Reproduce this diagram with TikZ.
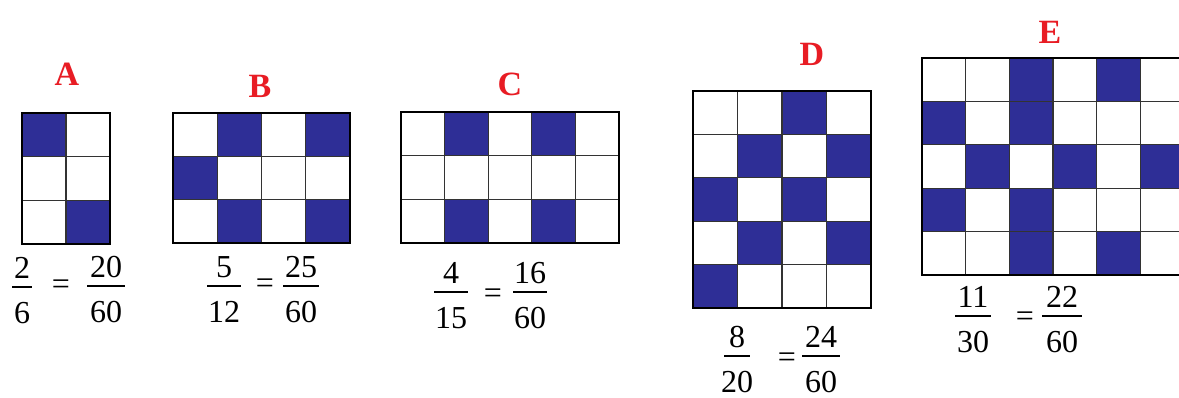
\documentclass[tikz,border=0pt]{standalone}
\usepackage{fontspec}
\setmainfont{Liberation Serif}
\definecolor{cellblue}{RGB}{46,46,150}
\definecolor{labred}{RGB}{232,28,36}
\tikzset{
  cell/.style={fill=cellblue},
  innerline/.style={draw=black!80, line width=1.3pt},
  outerline/.style={draw=black, line width=2.6pt},
  letter/.style={text=labred, font=\fontsize{34}{34}\selectfont\bfseries, inner sep=0pt, anchor=base},
  digit/.style={font=\fontsize{32}{32}\selectfont, inner sep=0pt, anchor=base},
  eqsign/.style={font=\fontsize{32}{32}\selectfont, inner sep=0pt, anchor=center},
  fracbar/.style={draw=black, line width=1.2pt}
}
% grid: x0, y0, cols, rows, cellw, cellh, filled list c/r
\newcommand\mygrid[7]{%
  \foreach \c/\r in {#7}{\fill[cell] ({#1+(\c-1)*#5},{#2+(\r-1)*#6}) rectangle ++(#5,#6);}
  \pgfmathtruncatemacro\gcm{#3-1}%
  \pgfmathtruncatemacro\grm{#4-1}%
  \foreach \i in {1,...,\gcm}{\draw[innerline] ({#1+\i*#5},#2) -- ++(0,{#4*#6});}
  \foreach \j in {1,...,\grm}{\draw[innerline] (#1,{#2+\j*#6}) -- ++({#3*#5},0);}
  \draw[outerline] (#1,#2) rectangle ({#1+#3*#5},{#2+#4*#6});
}
% fraction: name, cx, numerator baseline, bar halfwidth, num, den
\newcommand\myfrac[6]{%
  \node[digit] (#1n) at (#2,#3) {#5};
  \draw[fracbar] ({#2-#4},{#3+9}) -- ({#2+#4},{#3+9});
  \node[digit] (#1d) at (#2,{#3+45}) {#6};
}
\begin{document}
\begin{tikzpicture}[x=1pt,y=-1pt]
\useasboundingbox (0,0) rectangle (1179,397);
\fill[white] (0,0) rectangle (1179,397);
\begin{scope}
\clip (0,0) rectangle (1179,397);
% A
\mygrid{22}{113}{2}{3}{44}{43.7}{1/1,2/3}
% B
\mygrid{173}{113}{4}{3}{44.25}{43.3}{2/1,4/1,1/2,2/3,4/3}
% C
\mygrid{401}{112}{5}{3}{43.6}{43.7}{2/1,4/1,2/3,4/3}
% D
\mygrid{693}{91}{4}{5}{44.5}{43.4}{3/1,2/2,4/2,1/3,3/3,2/4,4/4,1/5}
% E
\mygrid{922}{58}{6}{5}{43.7}{43.4}{3/1,5/1,1/2,3/2,2/3,4/3,6/3,1/4,3/4,3/5,5/5}
\end{scope}
% letters
\node[letter] (lA) at (67,85) {A};
\node[letter] (lB) at (260,97) {B};
\node[letter] (lC) at (510,95) {C};
\node[letter] (lD) at (812,65) {D};
\node[letter] (lE) at (1050,43) {E};
% fractions
\myfrac{fa1}{22}{278}{10}{2}{6}
\node[eqsign] (ea) at (61,287) {=};
\myfrac{fa2}{106}{277}{19}{20}{60}
\myfrac{fb1}{224}{277}{17}{5}{12}
\node[eqsign] (eb) at (265,286) {=};
\myfrac{fb2}{301}{277}{18}{25}{60}
\myfrac{fc1}{451}{283}{17}{4}{15}
\node[eqsign] (ec) at (493,296) {=};
\myfrac{fc2}{530}{283}{17}{16}{60}
\myfrac{fd1}{737}{347}{13}{8}{20}
\node[eqsign] (ed) at (787,360) {=};
\myfrac{fd2}{821}{347}{19}{24}{60}
\myfrac{fe1}{973}{307}{18}{11}{30}
\node[eqsign] (ee) at (1025,319) {=};
\myfrac{fe2}{1062}{307}{20}{22}{60}
\end{tikzpicture}
\end{document}
